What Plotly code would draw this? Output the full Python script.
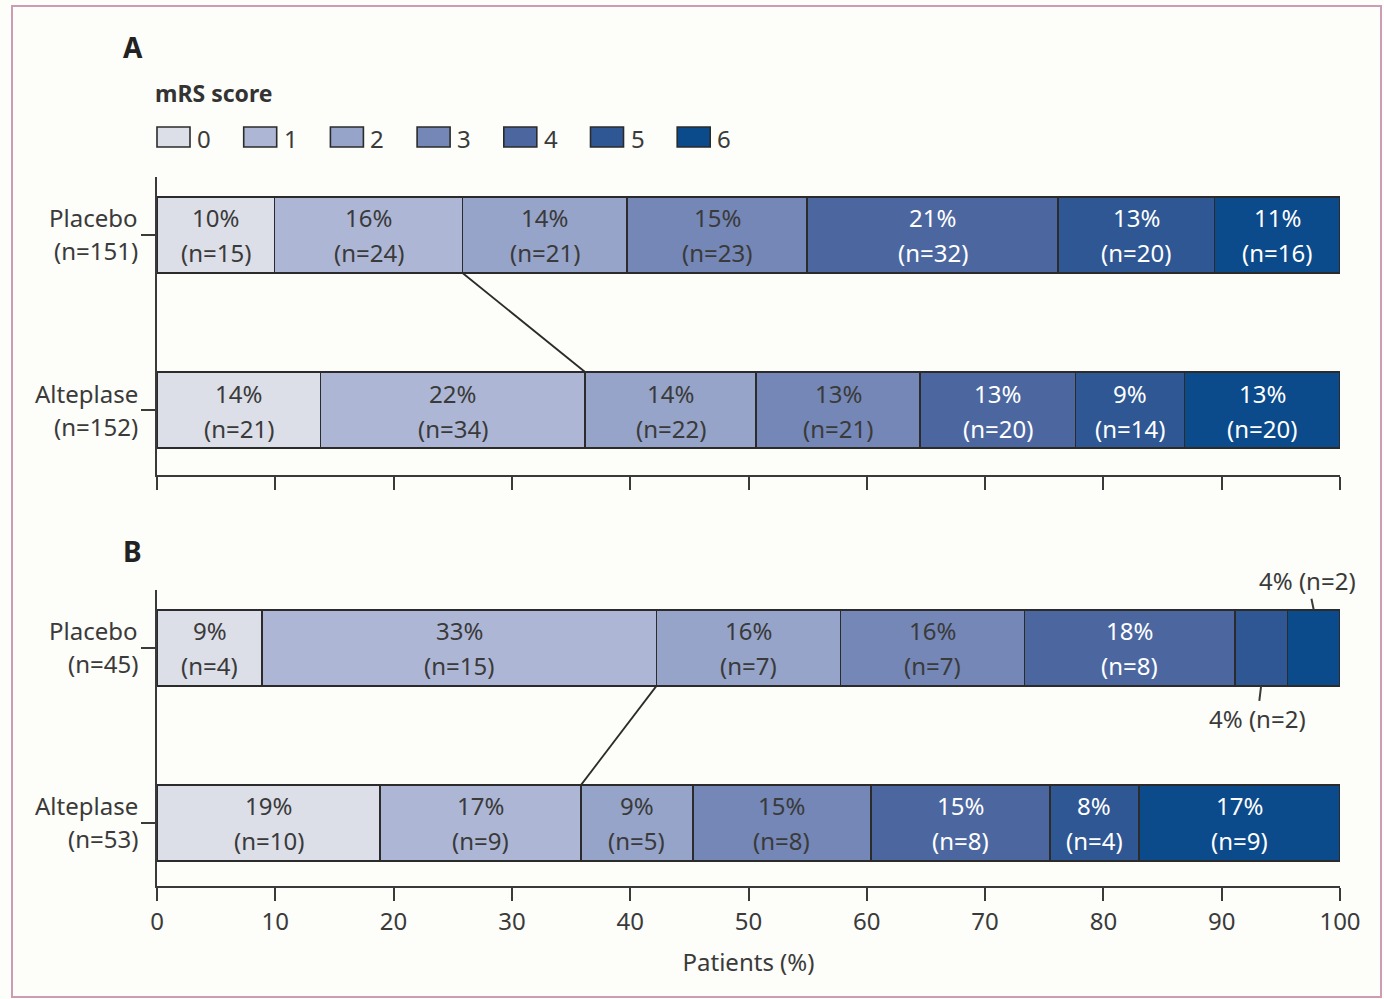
import plotly.graph_objects as go

# mRS score categories and their fill colours (light to dark blue)
mrs_scores = ["0", "1", "2", "3", "4", "5", "6"]
mrs_colors = ["#dcdfe8", "#adb7d5", "#95a4c8", "#7487b6", "#4c67a0", "#2e5793", "#0b4a8b"]
text_colors = ["#3a3a3a", "#3a3a3a", "#3a3a3a", "#3a3a3a", "#ffffff", "#ffffff", "#ffffff"]

# Panel A: patient counts per mRS score
a_placebo_n = [15, 24, 21, 23, 32, 20, 16]
a_alteplase_n = [21, 34, 22, 21, 20, 14, 20]
a_placebo_pct = [10, 16, 14, 15, 21, 13, 11]
a_alteplase_pct = [14, 22, 14, 13, 13, 9, 13]
a_group_labels = ["Placebo<br>(n=151)", "Alteplase<br>(n=152)"]

# Panel B: patient counts per mRS score
b_placebo_n = [4, 15, 7, 7, 8, 2, 2]
b_alteplase_n = [10, 9, 5, 8, 8, 4, 9]
b_placebo_pct = [9, 33, 16, 16, 18, 4, 4]
b_alteplase_pct = [19, 17, 9, 15, 15, 8, 17]
b_group_labels = ["Placebo<br>(n=45)", "Alteplase<br>(n=53)"]

FONT = "Noto Sans"
DARK = "#3a3a3a"
BAR_W = 0.435
W, H = 1384, 999
ML, MR = 157, 44
PW = W - ML - MR


def px_x(p):
    return (p - ML) / PW


def px_y(p):
    return 1 - p / H


fig = go.Figure()
annotations = []
shapes = []


def add_panel(placebo_n, alteplase_n, placebo_pct, alteplase_pct, labels, xa, ya, outside=()):
    yref = ya
    tot_p, tot_a = sum(placebo_n), sum(alteplase_n)
    rows = [(1, placebo_n, placebo_pct, tot_p), (0, alteplase_n, alteplase_pct, tot_a)]
    for k in range(7):
        fig.add_trace(go.Bar(
            x=[alteplase_n[k] / tot_a * 100, placebo_n[k] / tot_p * 100],
            y=[0, 1], orientation="h", width=BAR_W,
            marker=dict(color=mrs_colors[k], line=dict(color="#2b2b2b", width=1.6)),
            name=mrs_scores[k], showlegend=False, hoverinfo="skip",
            xaxis=xa, yaxis=ya,
        ))
    for yv, ns, pcts, tot in rows:
        start = 0.0
        for k in range(7):
            w = ns[k] / tot * 100
            mid = start + w / 2
            start += w
            if yv == 1 and k in outside:
                continue
            for txt, sh in ((f"{pcts[k]}%", 17), (f"(n={ns[k]})", -18)):
                annotations.append(dict(
                    x=mid, y=yv, xref=xa, yref=yref, text=txt, showarrow=False,
                    xanchor="center", yanchor="middle", yshift=sh,
                    font=dict(family=FONT, size=24, color=text_colors[k]),
                ))
    # group labels to the left of the axis
    for yv, lab in zip([1, 0], labels):
        top, bot = lab.split("<br>")
        for txt, sh in ((top, 17), (bot, -16)):
            annotations.append(dict(
                x=0, y=yv, xref="paper", yref=yref, text=txt, showarrow=False,
                xanchor="right", yanchor="middle", xshift=-17, yshift=sh,
                font=dict(family=FONT, size=24, color=DARK),
            ))
    # connector between cumulative mRS 0-1 boundaries
    cum_p = (placebo_n[0] + placebo_n[1]) / tot_p * 100
    cum_a = (alteplase_n[0] + alteplase_n[1]) / tot_a * 100
    shapes.append(dict(type="line", xref=xa, yref=yref,
                       x0=cum_p, y0=1 - BAR_W / 2, x1=cum_a, y1=BAR_W / 2,
                       line=dict(color="#2b2b2b", width=1.8)))
    return tot_p


add_panel(a_placebo_n, a_alteplase_n, a_placebo_pct, a_alteplase_pct, a_group_labels, "x", "y")
tot_bp = add_panel(b_placebo_n, b_alteplase_n, b_placebo_pct, b_alteplase_pct, b_group_labels,
                   "x2", "y2", outside=(5, 6))

# small mRS 5 and 6 segments in panel B placebo labelled outside the bar
cum = 0.0
mids = []
for n in b_placebo_n:
    w = n / tot_bp * 100
    mids.append(cum + w / 2)
    cum += w
annotations.append(dict(x=mids[6], y=1 + BAR_W / 2, xref="x2", yref="y2",
                        text=f"{b_placebo_pct[6]}% (n={b_placebo_n[6]})", showarrow=True,
                        arrowhead=0, arrowwidth=2, arrowcolor=DARK, ax=-6, ay=-29,
                        font=dict(family=FONT, size=24, color=DARK)))
annotations.append(dict(x=mids[5], y=1 - BAR_W / 2, xref="x2", yref="y2",
                        text=f"{b_placebo_pct[5]}% (n={b_placebo_n[5]})", showarrow=True,
                        arrowhead=0, arrowwidth=2, arrowcolor=DARK, ax=-4, ay=33,
                        font=dict(family=FONT, size=24, color=DARK)))

# panel letters and legend title
paper_txt = dict(xref="paper", yref="paper", showarrow=False, yanchor="middle")
annotations.append(dict(x=px_x(133), y=px_y(47), text="<b>A</b>", xanchor="center",
                        font=dict(family=FONT, size=28, color="#222"), **paper_txt))
annotations.append(dict(x=px_x(132), y=px_y(551), text="<b>B</b>", xanchor="center",
                        font=dict(family=FONT, size=28, color="#222"), **paper_txt))
annotations.append(dict(x=px_x(153), y=px_y(93), text="<b>mRS score</b>", xanchor="left",
                        font=dict(family=FONT, size=23, color="#333"), **paper_txt))

# legend swatches
LEG_STEP, SW_W = 86.7, 33
for i, (lab, col) in enumerate(zip(mrs_scores, mrs_colors)):
    x0 = 157 + i * LEG_STEP
    shapes.append(dict(type="rect", xref="paper", yref="paper",
                       x0=px_x(x0), x1=px_x(x0 + SW_W), y0=px_y(147), y1=px_y(127),
                       fillcolor=col, line=dict(color="#2b2b2b", width=1.6)))
    annotations.append(dict(x=px_x(x0 + SW_W + 5), y=px_y(139), text=lab, xanchor="left",
                            font=dict(family=FONT, size=24, color=DARK), **paper_txt))

# outer frame
shapes.append(dict(type="rect", xref="paper", yref="paper", layer="below",
                   x0=px_x(12), x1=px_x(1381), y0=px_y(997), y1=px_y(6),
                   line=dict(color="#cc9cb4", width=2)))

axis_common = dict(showgrid=False, zeroline=False, showline=True, linecolor=DARK, linewidth=2,
                   ticks="outside", tickcolor=DARK, tickwidth=2)

fig.update_layout(
    width=W, height=H, autosize=False,
    margin=dict(l=ML, r=MR, t=0, b=0),
    paper_bgcolor="#fdfdf9", plot_bgcolor="#fdfdf9",
    barmode="stack", showlegend=False,
    font=dict(family=FONT, size=24, color=DARK),
    xaxis=dict(domain=[0, 1], range=[0, 100], anchor="y", tick0=0, dtick=10, ticklen=13,
               showticklabels=False, **axis_common),
    yaxis=dict(domain=[px_y(475), px_y(177)], range=[-0.37, 1.33], anchor="x",
               tickvals=[0, 1], ticklen=14, showticklabels=False, **axis_common),
    xaxis2=dict(domain=[0, 1], range=[0, 100], anchor="y2", tick0=0, dtick=10, ticklen=13,
                tickfont=dict(family=FONT, size=24, color=DARK),
                title=dict(text="Patients (%)", standoff=18,
                           font=dict(family=FONT, size=24, color=DARK)),
                **axis_common),
    yaxis2=dict(domain=[px_y(886), px_y(590)], range=[-0.36, 1.33], anchor="x2",
                tickvals=[0, 1], ticklen=14, showticklabels=False, **axis_common),
    annotations=annotations,
    shapes=shapes,
)

fig.write_html("out.html")
